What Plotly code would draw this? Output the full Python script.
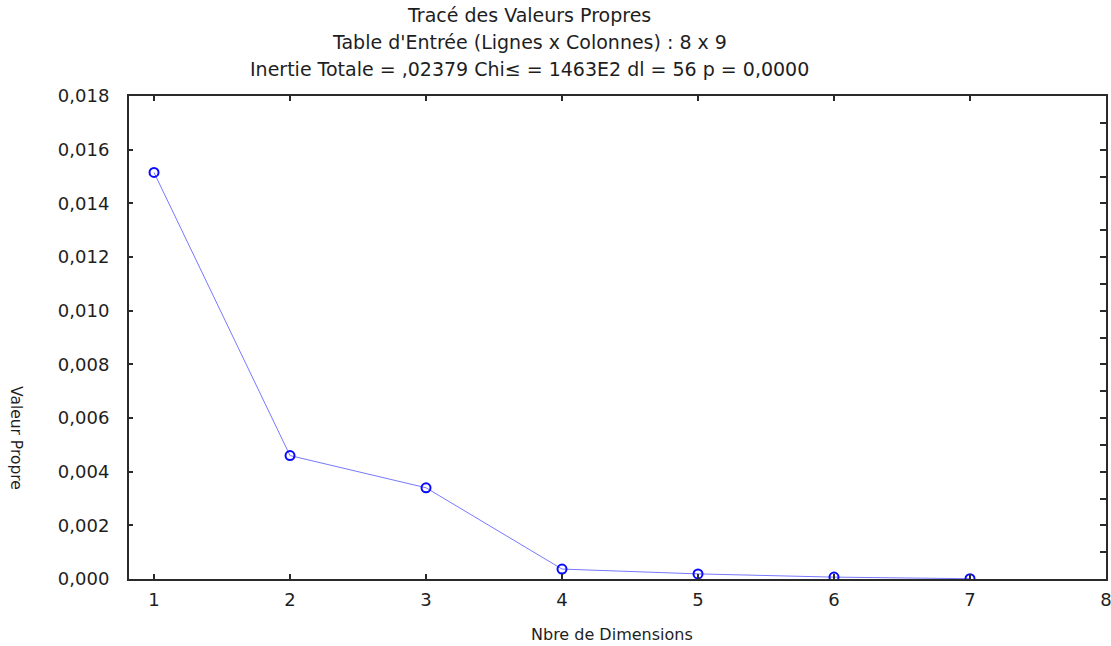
import plotly.graph_objects as go

# Eigenvalues per dimension
dimensions = [1, 2, 3, 4, 5, 6, 7]
valeurs_propres = [0.01515, 0.00460, 0.00340, 0.00037, 0.00019, 0.00007, 0.00001]

x_ticks = [1, 2, 3, 4, 5, 6, 7, 8]
y_ticks = [0.000, 0.002, 0.004, 0.006, 0.008, 0.010, 0.012, 0.014, 0.016, 0.018]

title_lines = [
    "Tracé des Valeurs Propres",
    "Table d'Entrée (Lignes x Colonnes) : 8 x 9",
    "Inertie Totale = ,02379 Chi≤ = 1463E2 dl = 56 p = 0,0000",
]

FONT = "DejaVu Sans, Arial, sans-serif"
INK = "#1e1e1e"
AXIS = "#2a2a2a"

W, H = 1111, 646
L, R, T, B = 129, 5, 96, 67

fig = go.Figure()
fig.add_trace(go.Scatter(
    x=dimensions, y=valeurs_propres,
    mode="lines+markers",
    line=dict(color="#7878ff", width=1),
    marker=dict(symbol="circle-open", size=9, color="#0a0aff", line=dict(width=2)),
    showlegend=False,
))
# invisible trace bound to the right-hand axis so it gets drawn
fig.add_trace(go.Scatter(x=[1], y=[0], yaxis="y2", mode="markers",
                         marker=dict(opacity=0), showlegend=False, hoverinfo="skip"))

y_range = [0, 0.018]
fig.update_layout(
    width=W, height=H,
    margin=dict(l=L, r=R, t=T, b=B, autoexpand=False),
    paper_bgcolor="white", plot_bgcolor="white",
    separators=", ",
    font=dict(family=FONT, size=15, color=INK),
    xaxis=dict(
        range=[0.816, 8], tickvals=x_ticks, ticktext=[str(v) for v in x_ticks],
        showgrid=False, zeroline=False, automargin=False,
        showline=True, linecolor=AXIS, linewidth=2, mirror="ticks",
        ticks="inside", ticklen=5, tickwidth=1.5, tickcolor=AXIS,
        ticklabelstandoff=3, ticklabeloverflow="allow",
        tickfont=dict(family=FONT, size=18, color=INK),
    ),
    yaxis=dict(
        range=y_range, tickvals=y_ticks, tickformat=".3f",
        showgrid=False, zeroline=False, automargin=False,
        showline=True, linecolor=AXIS, linewidth=2, mirror=False,
        ticks="inside", ticklen=4, tickwidth=1.5, tickcolor=AXIS,
        ticklabelstandoff=14,
        tickfont=dict(family=FONT, size=18, color=INK),
    ),
    yaxis2=dict(
        range=y_range, overlaying="y", side="right", dtick=0.001, tick0=0,
        showticklabels=False, showgrid=False, zeroline=False, automargin=False,
        showline=True, linecolor=AXIS, linewidth=2,
        ticks="inside", ticklen=6, tickwidth=1.5, tickcolor=AXIS,
    ),
)


def to_plot_coords(px, py):
    """Convert figure pixel position to plot-area paper coordinates."""
    return (px - L) / (W - L - R), 1 - (py - T) / (H - T - B)


annotations = []
for i, line in enumerate(title_lines):
    ax, ay = to_plot_coords(529, 15 + 27 * i)
    annotations.append(dict(
        text=line, xref="paper", yref="paper", x=ax, y=ay,
        xanchor="center", yanchor="middle", showarrow=False,
        font=dict(family=FONT, size=19, color=INK),
    ))
ax, ay = to_plot_coords(612, 634)
annotations.append(dict(
    text="Nbre de Dimensions", xref="paper", yref="paper", x=ax, y=ay,
    xanchor="center", yanchor="middle", showarrow=False,
    font=dict(family=FONT, size=16, color=INK),
))
ax, ay = to_plot_coords(16, 438)
annotations.append(dict(
    text="Valeur Propre", xref="paper", yref="paper", x=ax, y=ay,
    xanchor="center", yanchor="middle", textangle=90, showarrow=False,
    font=dict(family=FONT, size=15.5, color=INK),
))
fig.update_layout(annotations=annotations)

fig.write_html("out.html")
